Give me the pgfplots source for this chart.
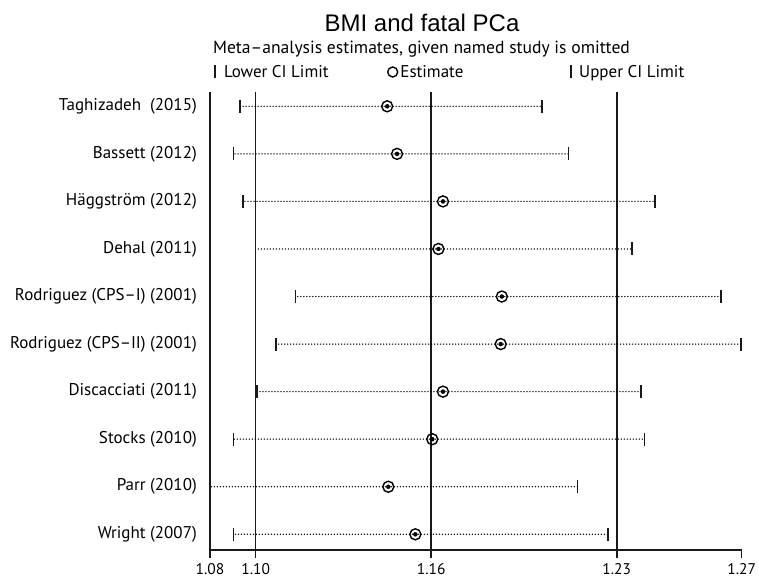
\documentclass[border=0pt]{standalone}
\usepackage{fontspec}
\setmainfont{PT Sans}
\newfontfamily\titlefont{Liberation Sans}
\usepackage{pgfplots}
\pgfplotsset{compat=1.18}
\usepackage{pgfplotstable}

\pgfplotstableread{
y lo est hi
10 1.0932 1.1454 1.2004
9 1.0908 1.1489 1.2097
8 1.0943 1.1652 1.2405
7 1.0987 1.1636 1.2324
6 1.1129 1.1861 1.2640
5 1.1060 1.1857 1.2711
4 1.0991 1.1652 1.2354
3 1.0908 1.1614 1.2367
2 1.0825 1.1458 1.2130
1 1.0908 1.1554 1.2237
}\rows

\newcommand{\lblfont}{\fontsize{17}{20}\selectfont}
\newcommand{\tickfont}{\fontsize{15.5}{18}\selectfont}

\begin{document}
\begin{tikzpicture}[x=1pt,y=1pt]
\path[use as bounding box] (0,0) rectangle (759,580);
\node[font=\titlefont\fontsize{24}{28}\selectfont] at (422,557) {BMI and fatal PCa};
\node[font=\fontsize{17.6}{20}\selectfont] at (421.5,531) {Meta--analysis estimates, given named study is omitted};
\begin{axis}[
  at={(210pt,30pt)}, anchor=south west,
  scale only axis, width=531.7pt, height=458.3pt,
  xmin=1.0825, xmax=1.27125, ymin=0.67, ymax=10.307,
  clip=false,
  axis x line*=bottom, axis y line*=left,
  axis line style={line width=1.5pt, black!90},
  tick align=outside, major tick length=8pt,
  xtick={1.0825,1.0987,1.1610,1.2269,1.27125},
  xticklabels={1.08,1.10,1.16,1.23,1.27},
  xtick style={line width=1.5pt, black!90},
  ytick={1,...,10},
  yticklabels={Wright (2007), Parr (2010), Stocks (2010), Discacciati (2011), Rodriguez (CPS--II) (2001), Rodriguez (CPS--I) (2001), Dehal (2011), Häggström (2012), Bassett (2012), Taghizadeh\ \ (2015)},
  ytick style={draw=none},
  yticklabel style={font=\lblfont, inner sep=0pt, xshift=-5pt},
  xticklabel style={font=\tickfont, inner sep=0pt, yshift=-5pt},
  /pgf/number format/assume math mode=true,
  legend columns=3,
  legend style={draw=none, fill=none, font=\lblfont, at={(axis description cs:0,1)}, anchor=west, xshift=1pt, yshift=19.7pt, /tikz/every even column/.append style={column sep=0pt}},
]
% overall reference lines
\addplot[forget plot, black!90, line width=1.6pt] coordinates {(1.0987,0.67) (1.0987,10.307)};
\addplot[forget plot, black!90, line width=1.6pt] coordinates {(1.1610,0.67) (1.1610,10.307)};
\addplot[forget plot, black!90, line width=1.6pt] coordinates {(1.2269,0.67) (1.2269,10.307)};
% dotted CI lines
\addplot[forget plot, only marks, mark=none, black,
  error bars/.cd, x dir=both, x explicit, error mark=none,
  error bar style={line width=1.5pt, line cap=round, dash pattern=on 0pt off 3pt, black}]
  table[x=est, y=y, x error plus expr=\thisrow{hi}-\thisrow{est}, x error minus expr=\thisrow{est}-\thisrow{lo}] {\rows};
\addplot[only marks, mark=|, mark size=6.5pt, black!90, mark options={line width=1.6pt},
  legend image code/.code={\draw[black!90, line width=1.8pt] (0pt,-6.5pt) -- (0pt,6.5pt);}] table[x=lo, y=y] {\rows};
\addlegendentry{\makebox[167pt][l]{\hspace{6pt}Lower CI Limit}}
\addplot[only marks, mark=o, mark size=5.5pt, black, mark options={line width=1.4pt},
  legend image code/.code={\draw[black, line width=1.4pt] (0pt,0pt) circle (5pt);}] table[x=est, y=y] {\rows};
\addlegendentry{\makebox[168pt][l]{Estimate}}
\addplot[only marks, mark=|, mark size=6.5pt, black!90, mark options={line width=1.6pt},
  legend image code/.code={\draw[black!90, line width=1.8pt] (0pt,-6.5pt) -- (0pt,6.5pt);}] table[x=hi, y=y] {\rows};
\addlegendentry{\hspace{5pt}Upper CI Limit}
\end{axis}
\end{tikzpicture}
\end{document}
